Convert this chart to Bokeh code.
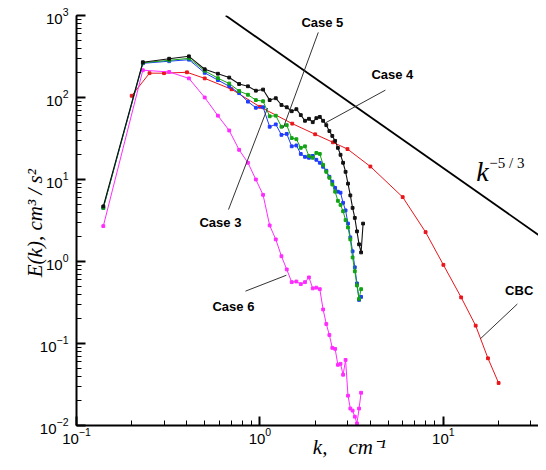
from bokeh.plotting import figure
from bokeh.models import Label
from bokeh.embed import file_html
from bokeh.resources import INLINE

# ---- data ----
k_cases = [0.14, 0.23, 0.32, 0.41, 0.50, 0.59, 0.68, 0.77, 0.86, 0.95, 1.04, 1.13, 1.22,
           1.31, 1.40, 1.49, 1.58, 1.67, 1.76, 1.85, 1.94, 2.03, 2.12, 2.21, 2.30, 2.39,
           2.48, 2.57, 2.66, 2.75, 2.84, 2.93, 3.02, 3.11, 3.20, 3.29, 3.38, 3.47, 3.56]
k_case4 = [0.14, 0.23, 0.32, 0.41, 0.50, 0.59, 0.68, 0.77, 0.86, 0.95, 1.04, 1.13, 1.22,
           1.31, 1.40, 1.49, 1.58, 1.67, 1.76, 1.85, 1.94, 2.03, 2.12, 2.21, 2.30, 2.39,
           2.48, 2.57, 2.66, 2.75, 2.84, 2.93, 3.02, 3.11, 3.20, 3.29, 3.38, 3.47, 3.56, 3.65]
E_case4 = [4.7, 269, 297, 318, 221, 195, 175, 146, 137, 121, 125, 93, 98, 81, 76, 68, 72, 61,
           52, 55, 50, 56, 58, 52, 46, 39, 34, 29.6, 24.3, 20.0, 16.0, 12.4, 8.9, 6.4, 4.5,
           3.4, 2.33, 1.62, 1.29, 2.9]
E_case5 = [4.5, 265, 284, 300, 212, 172, 148, 120, 108, 93, 90, 59, 60, 44, 46, 32, 31, 24.3,
           25.4, 19.4, 18.4, 21.1, 20.5, 15.1, 12.4, 10.5, 8.7, 7.1, 5.5, 4.9, 4.1, 3.2, 2.6,
           1.86, 1.12, 0.76, 0.51, 0.35, 0.46]
E_case3 = [4.5, 261, 277, 289, 200, 163, 137, 113, 89, 75, 76, 44, 47, 35, 36, 25.4, 26, 20.5,
           18.9, 18.4, 19.4, 17.4, 16.0, 14.3, 12.8, 10.8, 9.4, 7.9, 7.1, 6.9, 5.2, 4.2, 2.9,
           1.97, 1.33, 0.85, 0.54, 0.34, 0.37]
E_case6 = [2.7, 215, 205, 171, 100, 60, 39.6, 23, 16.0, 10.0, 6.5, 2.75, 1.86, 1.16, 0.80,
           0.56, 0.57, 0.53, 0.56, 0.64, 0.47, 0.48, 0.46, 0.26, 0.173, 0.127, 0.0885, 0.086,
           0.055, 0.0565, 0.0416, 0.063, 0.0231, 0.0161, 0.0152, 0.0128, 0.0106, 0.0161, 0.0251]
k_cbc = [0.2, 0.25, 0.3, 0.4, 0.5, 0.7, 1.0, 1.5, 2.0, 2.5, 3.0, 4.0, 6.0, 8.0, 10.0, 12.5,
         15.0, 17.5, 20.0]
E_cbc = [105, 198, 198, 203, 171, 126, 77, 48, 35.6, 28.4, 23.5, 14.4, 6.1, 2.28, 0.91,
         0.365, 0.165, 0.066, 0.033]
k_slope = [0.65, 36.4]
E_slope = [1000, 1.81]

# annotation leader lines (x0, y0) -> (x1, y1) and labels
lead_x0 = [2.08, 4.83, 0.674, 0.834, 25.3]
lead_y0 = [622, 123, 4.3, 0.435, 0.303]
lead_x1 = [1.34, 2.27, 1.10, 1.394, 15.9]
lead_y1 = [42.6, 48.9, 74.3, 0.68, 0.114]
case_names = ["Case 5", "Case 4", "Case 3", "Case 6", "CBC"]
case_x = [2.19, 5.27, 0.609, 0.717, 25.9]
case_y = [822, 192, 2.99, 0.282, 0.44]

p = figure(width=538, height=461, x_axis_type="log", y_axis_type="log",
           x_range=(0.1, 33.0), y_range=(0.01, 1000),
           output_backend="svg", toolbar_location=None,
           min_border_left=76, min_border_right=0, min_border_top=15, min_border_bottom=30)
p.outline_line_color = None
p.grid.visible = False
p.background_fill_color = "white"

for ax in (p.xaxis[0], p.yaxis[0]):
    ax.axis_line_width = 2
    ax.major_tick_in = 9
    ax.major_tick_out = 0
    ax.minor_tick_in = 5
    ax.minor_tick_out = 0
    ax.major_tick_line_width = 2
    ax.major_label_text_font = "Liberation Sans"
    ax.major_label_text_font_size = "15px"
    ax.major_label_text_color = "black"
    ax.axis_label_text_color = "black"
    ax.axis_label_text_font = "Liberation Serif"
    ax.axis_label_text_font_style = "italic"
    ax.axis_label_text_font_size = "21px"
p.yaxis.major_label_standoff = 8
p.xaxis.major_label_standoff = 2

p.yaxis.axis_label = "E(k),  cm³ / s²"
p.yaxis.axis_label_standoff = -10
p.xaxis.axis_label = "\u2003\u2003\u2003\u2003k,\u2002\u2002cm⁻¹"
p.xaxis.axis_label_standoff = -12

# k^-5/3 reference line
p.line(k_slope, E_slope, line_color="black", line_width=1.8)

series = [
    (k_cbc, E_cbc, "#e8151b", 1.0),
    (k_cases, E_case6, "#ff2bff", 1.0),
    (k_cases, E_case3, "#1f3cff", 1.0),
    (k_cases, E_case5, "#12a312", 1.0),
    (k_case4, E_case4, "#111111", 1.1),
]
for kx, ey, col, lw in series:
    p.line(kx, ey, line_color=col, line_width=lw)
    p.scatter(kx, ey, marker="square", size=2.8, fill_color=col, line_color=col)

p.segment(x0=lead_x0, y0=lead_y0, x1=lead_x1, y1=lead_y1, line_color="#333333", line_width=1)

for name, cx, cy in zip(case_names, case_x, case_y):
    p.add_layout(Label(x=cx, y=cy, text=name, text_font="Liberation Sans",
                       text_font_style="bold", text_font_size="13px",
                       text_align="center", text_baseline="middle", text_color="black"))

p.add_layout(Label(x=15.1, y=12.4, text="k", text_font="Liberation Serif",
                   text_font_style="italic", text_font_size="28px", text_color="black",
                   text_align="left", text_baseline="alphabetic"))
p.add_layout(Label(x=17.8, y=16.0, text="−5 / 3", text_font="Liberation Serif",
                   text_font_size="15px", text_color="black",
                   text_align="left", text_baseline="alphabetic"))

open("out.html", "w").write(file_html(p, INLINE))
